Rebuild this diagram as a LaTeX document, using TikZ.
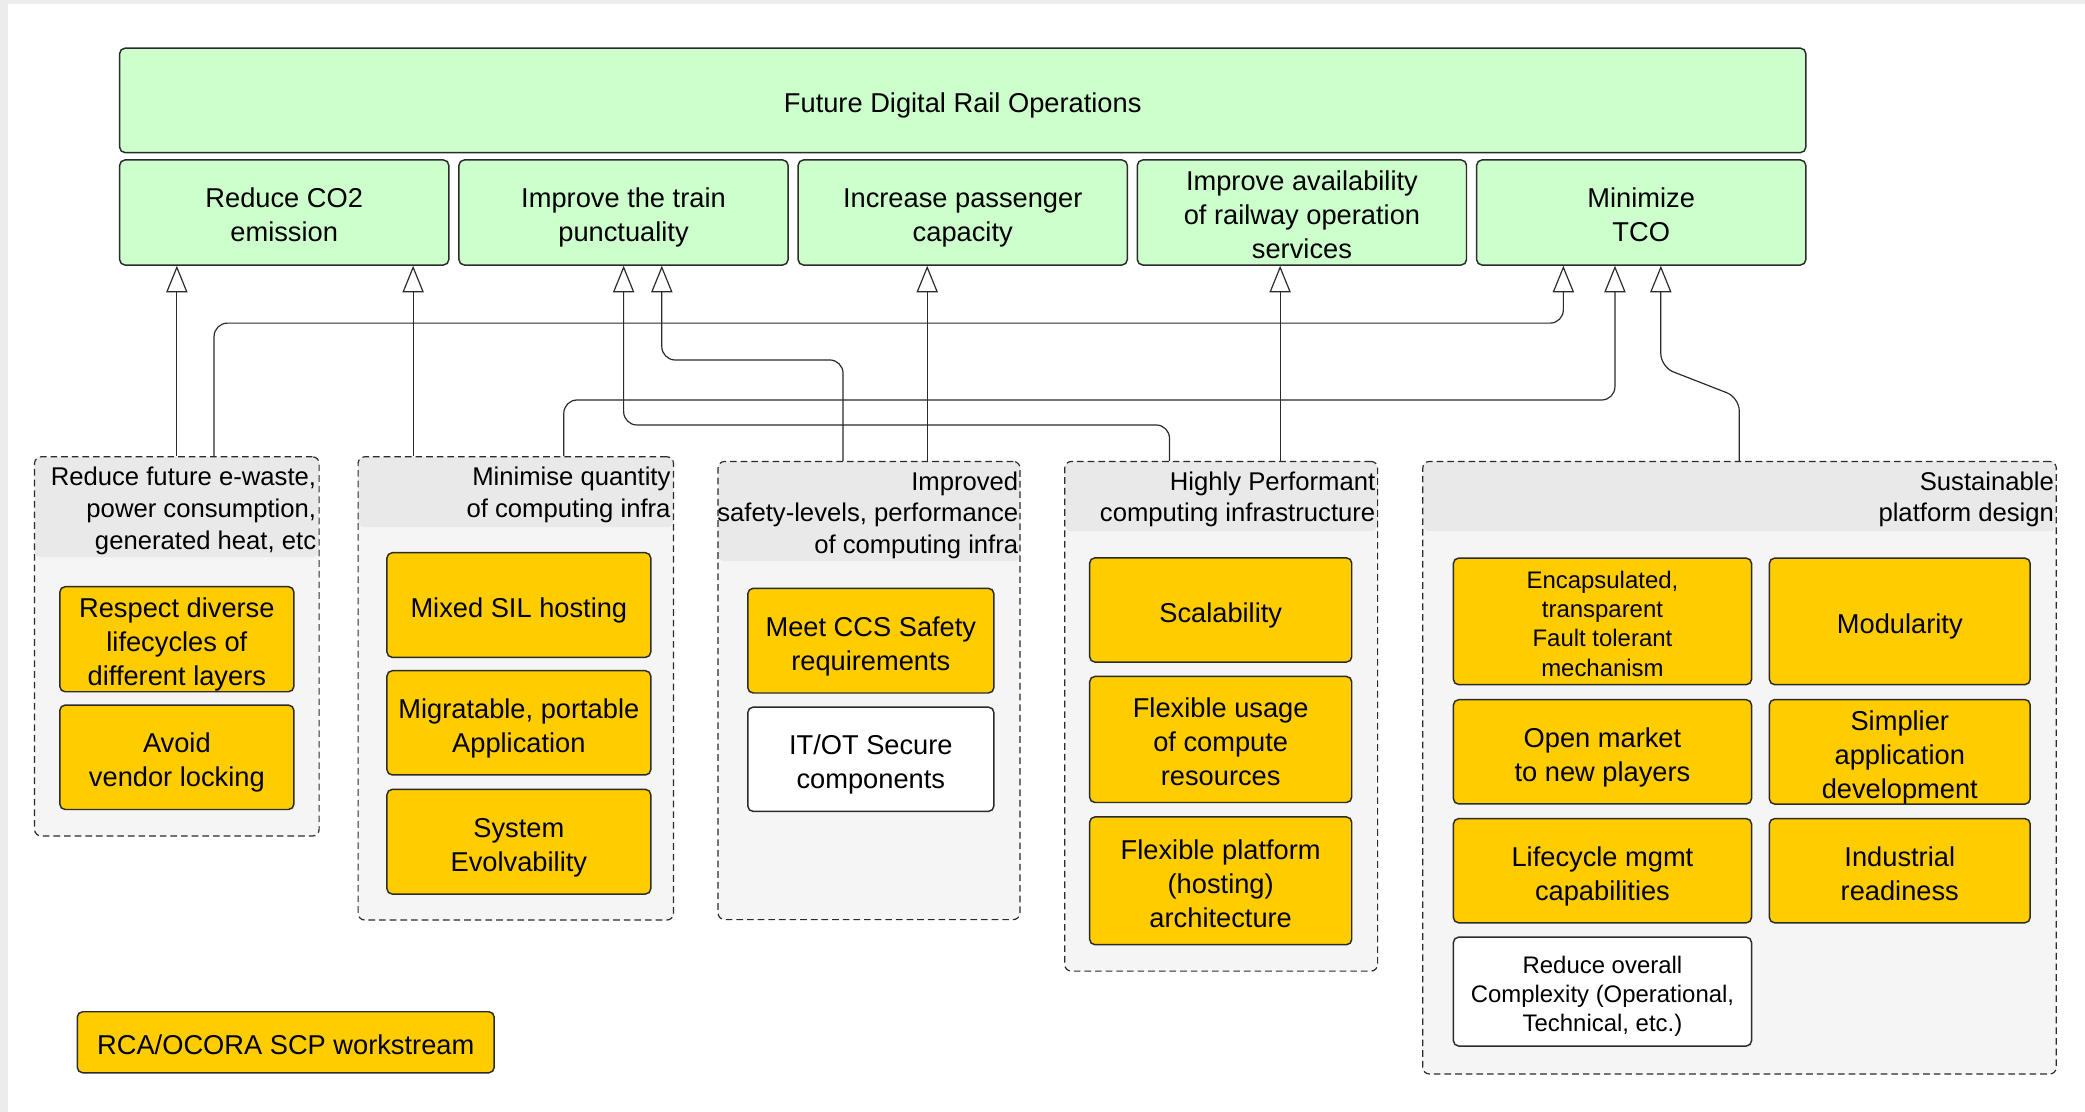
\documentclass[tikz,border=0pt]{standalone}
\usepackage{fontspec}
\setmainfont{Liberation Sans}
\usetikzlibrary{arrows.meta}

\definecolor{goalgreen}{HTML}{CCFFCC}
\definecolor{reqyellow}{HTML}{FFCC00}
\definecolor{grpbody}{HTML}{F5F5F5}
\definecolor{grphead}{HTML}{E9E9E9}
\definecolor{edgecol}{HTML}{2B2B2B}
\definecolor{framegray}{HTML}{ECECEC}

\newcommand{\txtbig}{\fontsize{20.5pt}{25.5pt}\selectfont}
\newcommand{\txtgrp}{\fontsize{19.3pt}{24pt}\selectfont}
\newcommand{\txtsml}{\fontsize{18pt}{22pt}\selectfont}
% invisible rules that keep a text block centred on its letters
\newcommand{\bstrut}{\vrule height 1.13em depth .22em width 0pt}
\newcommand{\tstrut}{\vrule height 1.13em depth 0pt width 0pt}
\newcommand{\dstrut}{\vrule height 0pt depth .22em width 0pt}

\tikzset{
  goal/.style={draw=edgecol, line width=1.1pt, fill=goalgreen, rounded corners=4pt,
    align=center, inner sep=0pt, font=\txtbig, minimum height=79pt},
  req/.style={draw=edgecol, line width=1.1pt, fill=reqyellow, rounded corners=4pt,
    align=center, inner sep=0pt, font=\txtbig},
  reqwhite/.style={req, fill=white},
  grp/.style={draw=edgecol, line width=0.9pt, dash pattern=on 5pt off 3pt,
    fill=grpbody, rounded corners=5pt, inner sep=0pt,
    path picture={\fill[grphead] (path picture bounding box.north west)
      rectangle ([yshift=-#1]path picture bounding box.north east);}},
  grplabel/.style={anchor=north east, inner sep=0pt, align=right, font=\txtgrp},
  conn/.style={draw=edgecol, line width=0.9pt, rounded corners=10pt,
    -{Triangle[open, length=20pt, width=16pt]}},
}

\begin{document}
\begin{tikzpicture}[x=1pt, y=-1pt]
\useasboundingbox (0,0) rectangle (1568,836);
\fill[white] (0,0) rectangle (1568,836);
\fill[framegray] (0,0) rectangle (5.7,836);
\fill[framegray] (0,0) rectangle (1568,3);

% goals
\node[goal, minimum width=1268pt, minimum height=78.5pt] (future) at (724,75.5) {\bstrut Future Digital Rail Operations};
\node[goal, minimum width=247.5pt] (co2)   at (213.75,159.8) {\tstrut Reduce CO2\\emission\dstrut};
\node[goal, minimum width=247.5pt] (punct) at (468.9,159.8)  {\tstrut Improve the train\\punctuality\dstrut};
\node[goal, minimum width=247.5pt] (cap)   at (724,159.8)    {\tstrut Increase passenger\\capacity\dstrut};
\node[goal, minimum width=247.5pt] (avail) at (979.1,159.8)  {\tstrut Improve availability\\of railway operation\\services\dstrut};
\node[goal, minimum width=247.5pt] (tco)   at (1234.25,159.8) {\tstrut Minimize\\TCO\dstrut};

% groups of requirements
\node[grp=75.5pt, minimum width=214pt, minimum height=285.2pt] (ewaste) at (133,486.1) {};
\node[grplabel] (ewasteLbl) at ([xshift=-2.5pt,yshift=-5pt]ewaste.north east)
  {\strut Reduce future e-waste,\\power consumption,\\generated heat, etc};

\node[grp=53pt, minimum width=237.2pt, minimum height=348.4pt] (minim) at (387.9,517.7) {};
\node[grplabel] (minimLbl) at ([xshift=-2.5pt,yshift=-5pt]minim.north east)
  {\strut Minimise quantity\\of computing infra};

\node[grp=75pt, minimum width=227pt, minimum height=344.6pt] (safety) at (653.5,519.3) {};
\node[grplabel] (safetyLbl) at ([xshift=-1.5pt,yshift=-5pt]safety.north east)
  {\strut Improved\\safety-levels, performance\\of computing infra};

\node[grp=52.4pt, minimum width=235.3pt, minimum height=383.3pt] (perf) at (918.35,538.65) {};
\node[grplabel] (perfLbl) at ([xshift=-2pt,yshift=-5pt]perf.north east)
  {\strut Highly Performant\\computing infrastructure};

\node[grp=52.4pt, minimum width=476.4pt, minimum height=460.7pt] (sustain) at (1308.2,577.35) {};
\node[grplabel] (sustainLbl) at ([xshift=-2pt,yshift=-5pt]sustain.north east)
  {\strut Sustainable\\platform design};

% requirements
\node[req, minimum width=176pt, minimum height=79pt]   (respect) at (133,480.7) {\tstrut Respect diverse\\lifecycles of\\different layers\dstrut};
\node[req, minimum width=176pt, minimum height=78.5pt] (avoid)   at (133,569.5) {\tstrut Avoid\\vendor locking\dstrut};

\node[req, minimum width=198.4pt, minimum height=78.7pt] (mixed) at (390.2,455)   {\bstrut Mixed SIL hosting};
\node[req, minimum width=198.4pt, minimum height=78.4pt] (migr)  at (390.2,543.6) {\tstrut Migratable, portable\\Application\dstrut};
\node[req, minimum width=198.4pt, minimum height=78.7pt] (evol)  at (390.2,633)   {\tstrut System\\Evolvability\dstrut};

\node[req, minimum width=185pt, minimum height=78.7pt]      (ccs)  at (654.9,481.8) {\tstrut Meet CCS Safety\\requirements\dstrut};
\node[reqwhite, minimum width=185pt, minimum height=78.4pt] (itot) at (654.9,571)   {\tstrut IT/OT Secure\\components\dstrut};

\node[req, minimum width=197.1pt, minimum height=78.4pt] (scal)  at (918,458.7) {\bstrut Scalability};
\node[req, minimum width=197.1pt, minimum height=94.8pt] (flexu) at (918,556.1) {\tstrut Flexible usage\\of compute\\resources\dstrut};
\node[req, minimum width=197.1pt, minimum height=96.1pt] (flexp) at (918,662.4) {\tstrut Flexible platform\\(hosting)\\architecture\dstrut};

\node[req, font=\txtsml, minimum width=224.2pt, minimum height=95.2pt] (encap) at (1205.1,467.3) {\tstrut Encapsulated,\\transparent\\Fault tolerant\\mechanism\dstrut};
\node[req, minimum width=196.1pt, minimum height=95.2pt] (modul) at (1428.7,467.3) {\bstrut Modularity};
\node[req, minimum width=224.2pt, minimum height=78.4pt] (openm) at (1205.1,565.4) {\tstrut Open market\\to new players\dstrut};
\node[req, minimum width=196.1pt, minimum height=78.4pt] (simpl) at (1428.7,565.4) {\tstrut Simplier\\application\\development\dstrut};
\node[req, minimum width=224.2pt, minimum height=78.4pt] (lifec) at (1205.1,654.8) {\tstrut Lifecycle mgmt\\capabilities\dstrut};
\node[req, minimum width=196.1pt, minimum height=78.4pt] (indus) at (1428.7,654.8) {\tstrut Industrial\\readiness\dstrut};
\node[reqwhite, font=\txtsml, minimum width=224.2pt, minimum height=81.9pt] (redux) at (1205.1,745.7) {\tstrut Reduce overall\\Complexity (Operational,\\Technical, etc.)\dstrut};

% legend
\node[req, minimum width=313.5pt, minimum height=45.9pt] (legend) at (214.9,783.8) {\bstrut RCA/OCORA SCP workstream};

% connector routing points
\coordinate (x1) at (133,0);
\coordinate (x2) at (310.7,0);
\coordinate (x5) at (697.3,0);
\coordinate (x6) at (962.7,0);
\coordinate (s3) at (879.5,0);   \coordinate (k3) at (469,319.6);
\coordinate (s4) at (634,0);     \coordinate (k4) at (497.7,270.7);
\coordinate (s7) at (161,0);     \coordinate (k7) at (1175.7,243);
\coordinate (s8) at (424,0);     \coordinate (k8) at (1214.5,300.8);
\coordinate (s9) at (1308,0);
\coordinate (d9a) at (1308,299);
\coordinate (d9b) at (1249,276);

% connectors
\draw[conn] (ewaste.north -| x1) -- (co2.south -| x1);
\draw[conn] (minim.north -| x2) -- (co2.south -| x2);
\draw[conn] (perf.north -| s3) |- (k3) -- (punct.south -| k3);
\draw[conn] (safety.north -| s4) |- (k4) -- (punct.south -| k4);
\draw[conn] (safety.north -| x5) -- (cap.south -| x5);
\draw[conn] (perf.north -| x6) -- (avail.south -| x6);
\draw[conn] (ewaste.north -| s7) |- (k7) -- (tco.south -| k7);
\draw[conn] (minim.north -| s8) |- (k8) -- (tco.south -| k8);
\draw[conn] (sustain.north -| s9) -- (d9a) -- (d9b) -- (tco.south -| d9b);
\end{tikzpicture}
\end{document}
